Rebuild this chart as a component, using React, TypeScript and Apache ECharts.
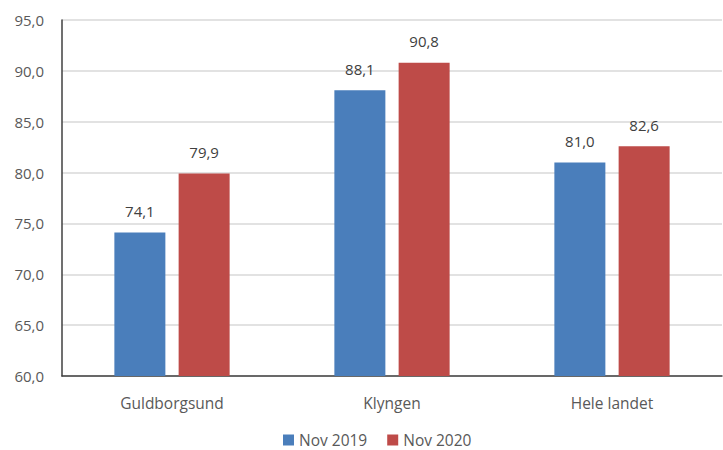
import React, { useEffect, useRef } from "react";
import * as echarts from "echarts";

const categories = ["Guldborgsund", "Klyngen", "Hele landet"];
const nov2019 = [74.1, 88.1, 81.0];
const nov2020 = [79.9, 90.8, 82.6];
const seriesNames = ["Nov 2019", "Nov 2020"];

const fmt = (v: number) => v.toFixed(1).replace(".", ",");

export default function App() {
  const ref = useRef<HTMLDivElement>(null);
  useEffect(() => {
    const chart = echarts.init(ref.current!, undefined, { renderer: "svg" });
    const font = "'Open Sans', 'Liberation Sans', sans-serif";
    chart.setOption({
      animation: false,
      textStyle: { fontFamily: font },
      grid: { left: 62, right: 1, top: 20, bottom: 74, containLabel: false },
      legend: {
        top: 432,
        left: 283,
        padding: 0,
        itemWidth: 11,
        itemHeight: 11,
        itemGap: 20,
        icon: "rect",
        textStyle: { color: "#595959", fontSize: 15.5, lineHeight: 16, fontFamily: font },
        data: seriesNames,
      },
      xAxis: {
        type: "category",
        data: categories,
        axisLine: { lineStyle: { color: "#404040", width: 1.5 } },
        axisTick: { show: false },
        axisLabel: { color: "#595959", fontSize: 15.5, margin: 19, fontFamily: font },
      },
      yAxis: {
        type: "value",
        min: 60,
        max: 95,
        interval: 5,
        axisLine: { show: true, lineStyle: { color: "#404040", width: 1.5 } },
        axisTick: { show: false },
        splitLine: { lineStyle: { color: "#d9d9d9", width: 1.5 } },
        axisLabel: { color: "#595959", fontSize: 15, margin: 18, formatter: (v: number) => fmt(v), fontFamily: font },
      },
      series: [
        {
          name: seriesNames[0],
          type: "bar",
          data: nov2019,
          barWidth: 51,
          barGap: "26%",
          itemStyle: { color: "#4a7ebb" },
          label: { show: true, position: "top", distance: 14, color: "#404040", fontSize: 15, formatter: (p: any) => fmt(p.value), fontFamily: font },
        },
        {
          name: seriesNames[1],
          type: "bar",
          data: nov2020,
          barWidth: 51,
          itemStyle: { color: "#be4b48" },
          label: { show: true, position: "top", distance: 14, color: "#404040", fontSize: 15, formatter: (p: any) => fmt(p.value), fontFamily: font },
        },
      ],
    });
    return () => chart.dispose();
  }, []);
  return <div ref={ref} style={{ position: "fixed", left: 0, top: 0, width: 723, height: 450, background: "#fff" }} />;
}
